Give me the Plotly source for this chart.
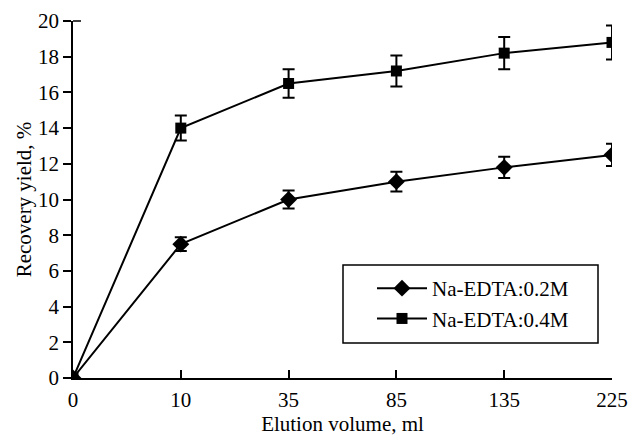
import plotly.graph_objects as go

volumes = ["0", "10", "35", "85", "135", "225"]
yield_02 = [0, 7.5, 10.0, 11.0, 11.8, 12.5]
err_02 = [0, 0.38, 0.5, 0.55, 0.6, 0.63]
yield_04 = [0, 14.0, 16.5, 17.2, 18.2, 18.8]
err_04 = [0, 0.7, 0.8, 0.87, 0.9, 0.95]
y_ticks = list(range(0, 21, 2))

FS = 21
FAM = "Liberation Serif, Times New Roman, serif"
font = dict(family=FAM, size=FS, color="black")

fig = go.Figure()
fig.add_trace(go.Scatter(
    x=volumes, y=yield_02, name="Na-EDTA:0.2M", mode="lines+markers",
    line=dict(color="black", width=2),
    marker=dict(symbol="diamond", size=13, color="black"),
    error_y=dict(type="data", array=err_02, visible=True, color="black", thickness=2, width=6),
))
fig.add_trace(go.Scatter(
    x=volumes, y=yield_04, name="Na-EDTA:0.4M", mode="lines+markers",
    line=dict(color="black", width=2),
    marker=dict(symbol="square", size=11, color="black"),
    error_y=dict(type="data", array=err_04, visible=True, color="black", thickness=2, width=6),
))

# legend frame
fig.add_shape(type="rect", xref="paper", yref="paper",
              x0=(343 - 73) / 539, x1=(598 - 73) / 539,
              y0=(378 - 343) / 357, y1=(378 - 265) / 357,
              line=dict(color="black", width=1.5), fillcolor="white", layer="below")
# short cap at top of y axis
fig.add_shape(type="line", xref="paper", yref="paper",
              x0=0, x1=8 / 539, y0=1, y1=1, line=dict(color="black", width=1.5))

fig.update_layout(
    width=628, height=436,
    margin=dict(l=73, r=16, t=21, b=58, autoexpand=False),
    paper_bgcolor="white", plot_bgcolor="white",
    font=font,
    showlegend=True,
    legend=dict(x=(372 - 73) / 539, y=(378 - 268) / 357, xanchor="left", yanchor="top",
                borderwidth=0, bgcolor="rgba(0,0,0,0)", itemwidth=50,
                font=dict(size=FS), tracegroupgap=9),
)
fig.update_xaxes(
    type="category", range=[0, 5], showline=True, linecolor="black", linewidth=1.5,
    ticks="inside", ticklen=8, tickcolor="black", tickwidth=1.5, showgrid=False, zeroline=False,
    title=dict(text="Elution volume, ml", font=dict(family=FAM, size=FS), standoff=7),
    tickfont=dict(size=FS), ticklabelstandoff=2, automargin=False,
)
fig.update_yaxes(
    range=[0, 20], tickvals=y_ticks, showline=True, linecolor="black", linewidth=1.5,
    ticks="outside", ticklen=8, tickcolor="black", tickwidth=1.5, showgrid=False, zeroline=False,
    title=dict(text="Recovery yield, %", font=dict(family=FAM, size=FS), standoff=1),
    tickfont=dict(size=FS), automargin=False,
)

fig.write_html("out.html")
